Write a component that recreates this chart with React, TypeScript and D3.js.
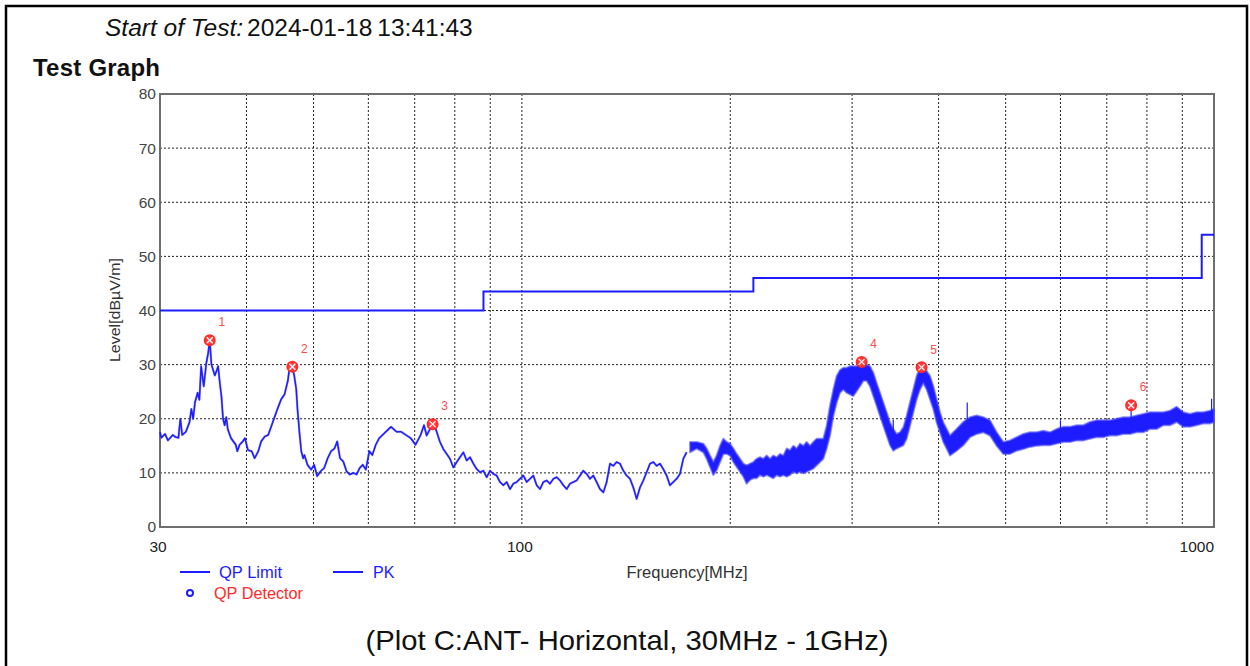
import React from "react";
import { scaleLog, scaleLinear, line, area, curveStepAfter } from "d3";

const W = 1250;
const H = 666;
const plot = { left: 160, right: 1214, top: 94, bottom: 527 };
const font = "'Liberation Sans', Arial, sans-serif";
const blue = "#1c1cff";
const red = "#ff2a2a";

// y ticks and log grid
const yTicks = [0, 10, 20, 30, 40, 50, 60, 70, 80];
const xTickLabels = [30, 100, 1000];
const xGrid = [40, 50, 60, 70, 80, 90, 100, 200, 300, 400, 500, 600, 700, 800, 900];

// QP limit (step after each break)
const limitFreq = [30, 88, 216, 960, 1000];
const limitLevel = [40, 43.5, 46, 54, 54];

// PK trace, 30 - 173 MHz (thin line)
const pkFreq = [
  30.0, 30.13, 30.5, 30.8, 31.3, 31.6, 31.9, 32.1, 32.3, 32.7, 33.1, 33.3, 33.5, 33.7, 34.0, 34.2,
  34.4, 34.7, 35.0, 35.2, 35.4, 35.6, 35.8, 36.0, 36.2, 36.4, 36.6, 36.8, 37.0, 37.2, 37.4, 37.6,
  38.0, 38.6, 38.8, 39.1, 39.5, 39.8, 40.2, 40.7, 41.1, 41.6, 42.0, 42.5, 43.0, 43.5, 44.0, 44.4,
  44.9, 45.4, 45.9, 46.1, 46.4, 46.7, 46.9, 47.2, 47.4, 47.7, 48.0, 48.3, 48.5, 49.0, 49.6, 50.1,
  50.6, 51.2, 51.8, 52.4, 53.0, 53.6, 54.1, 54.6, 55.2, 55.8, 56.4, 57.1, 57.7, 58.3, 58.9, 59.5,
  60.2, 60.8, 61.5, 62.2, 62.9, 63.6, 64.7, 65.9, 66.9, 68.0, 69.1, 70.2, 71.4, 72.2,
  72.85, 73.66, 74.48, 75.31, 76.15, 77.0, 77.86, 78.73, 79.61, 80.5, 81.4, 82.3, 83.22, 84.15,
  85.09, 86.04, 87.0, 87.97, 88.95, 89.94, 90.94, 91.96, 92.98, 94.02, 95.07, 96.13, 97.2, 98.28,
  99.38, 100.49, 101.61, 102.74, 103.89, 105.05, 106.22, 107.4, 108.6, 109.81, 111.03, 112.27,
  113.52, 114.79, 116.07, 117.36, 118.67, 119.99, 121.33, 122.68, 124.05, 125.43, 126.83, 128.24,
  129.67, 131.12, 132.58, 134.06, 135.55, 137.06, 138.59, 140.14, 141.7, 143.28, 144.88, 146.49,
  148.12, 149.77, 151.44, 153.13, 154.84, 156.56, 158.31, 160.07, 161.86, 163.66, 165.49, 167.33,
  169.2, 171.08, 172.99,
];
const pkLevel = [
  17.5, 16.5, 17.2, 16.0, 17.0, 16.6, 16.5, 20.0, 17.0, 17.6, 19.4, 21.8, 20.0, 23.0, 24.8, 23.5,
  29.7, 26.0, 30.3, 32.0, 34.5, 30.0, 29.0, 28.0, 28.8, 29.7, 26.7, 24.2, 20.0, 18.8, 20.3, 18.0,
  16.4, 15.2, 14.0, 15.2, 15.8, 16.4, 14.2, 14.0, 12.7, 14.0, 15.8, 16.7, 17.0, 18.8, 20.6, 22.0,
  23.6, 24.5, 27.0, 28.8, 29.7, 29.0, 27.9, 25.5, 21.8, 17.6, 14.0, 12.7, 13.3, 11.5, 10.6, 11.5,
  9.4, 10.3, 10.9, 12.7, 14.0, 14.5, 15.8, 12.7, 12.1, 10.3, 9.7, 10.0, 9.7, 10.9, 11.5, 10.6,
  14.0, 13.3, 15.2, 16.4, 17.0, 17.6, 18.5, 17.6, 17.6, 17.0, 16.4, 15.2, 17.0, 18.8,
  16.9, 18.1, 19.4, 17.6, 15.7, 14.4, 13.5, 12.6, 11.0, 12.0, 12.9, 13.8, 12.3, 12.9,
  11.7, 10.7, 10.1, 10.4, 9.2, 10.4, 9.8, 9.5, 8.3, 7.7, 8.3, 7.0, 8.0, 8.3,
  8.9, 9.5, 8.3, 8.9, 9.5, 7.7, 7.0, 8.3, 8.6, 8.0, 8.9, 9.2,
  8.6, 7.7, 7.0, 8.0, 8.3, 8.6, 9.5, 10.4, 9.8, 8.9, 9.5, 8.3,
  7.0, 6.4, 8.3, 11.7, 11.3, 12.0, 11.7, 10.4, 9.5, 8.9, 7.3, 5.2,
  7.3, 8.6, 10.1, 11.7, 12.0, 11.3, 11.7, 10.7, 9.5, 7.7, 8.3, 8.9,
  9.8, 12.6, 13.8,
];

// PK trace, 175 - 1000 MHz (dense band: upper / lower envelope)
const bandFreq = [
  174.96, 178.88, 182.89, 184.93, 186.99, 189.08, 191.19, 193.32, 195.47, 197.65, 199.86, 202.09,
  204.34, 206.62, 208.92, 211.25, 213.61, 215.99, 218.4, 220.83, 223.29, 225.78, 228.3, 230.84,
  233.42, 236.02, 238.65, 241.31, 244.0, 246.72, 249.47, 252.25, 255.07, 257.91, 260.79, 263.69,
  266.63, 269.61, 272.61, 275.65, 278.73, 281.83, 284.98, 288.15, 291.37, 294.61, 297.9, 301.22,
  304.58, 307.97, 311.41, 314.88, 318.39, 321.94, 325.53, 329.16, 332.83, 336.54, 340.29, 344.08,
  347.92, 351.8, 355.72, 359.69, 363.7, 367.75, 371.85, 376.0, 380.19, 384.43, 388.72, 393.05,
  397.43, 401.86, 406.34, 410.87, 415.45, 424.77, 434.29, 444.03, 453.99, 464.17, 474.58, 485.22,
  496.1, 507.23, 518.6, 530.23, 542.12, 554.28, 566.71, 579.42, 592.41, 605.7, 619.28, 633.17,
  647.37, 661.89, 676.73, 691.91, 707.42, 723.29, 739.51, 756.09, 773.05, 790.38, 808.11, 826.23,
  844.76, 863.7, 883.07, 902.87, 923.12, 943.82, 964.99, 986.63, 1000,
];
const bandHi = [
  15.7, 15.7, 15.4, 14.5, 13.2, 12.0, 13.2, 15.0, 16.3, 15.7, 15.4, 14.5,
  13.5, 12.6, 11.7, 11.4, 11.7, 12.0, 12.6, 12.9, 12.6, 13.2, 12.6, 13.2,
  12.9, 13.5, 13.2, 14.5, 14.2, 15.0, 14.5, 15.4, 15.0, 15.7, 15.0, 15.7,
  16.3, 16.3, 16.3, 18.7, 22.4, 25.4, 27.9, 29.0, 29.4, 29.4, 29.7, 29.7,
  29.7, 30.3, 30.3, 30.0, 29.7, 28.5, 26.6, 24.8, 23.0, 21.2, 19.3, 18.1,
  17.2, 17.5, 18.4, 20.5, 23.0, 25.4, 27.9, 29.4, 29.7, 28.8, 27.9, 26.0,
  23.6, 21.2, 19.3, 18.1, 16.9, 18.1, 19.4, 20.3, 20.6, 20.3, 19.7, 17.5,
  15.7, 16.0, 16.6, 17.2, 17.5, 17.5, 17.8, 17.5, 18.1, 18.5, 18.5, 18.8,
  18.8, 19.4, 19.7, 19.7, 19.7, 20.0, 20.3, 20.3, 20.6, 20.9, 21.2, 21.2,
  21.2, 21.5, 22.2, 21.2, 20.9, 21.2, 21.2, 21.5, 21.8,
];
const bandLo = [
  13.8, 14.5, 13.8, 12.6, 11.1, 9.6, 10.5, 12.0, 13.5, 13.5, 13.2, 12.0,
  11.1, 10.2, 9.3, 8.0, 8.7, 9.0, 9.0, 9.6, 9.3, 9.6, 9.3, 9.0,
  9.6, 9.3, 9.6, 9.3, 9.6, 10.2, 9.9, 10.2, 9.9, 10.2, 10.5, 10.8,
  11.4, 12.0, 12.6, 14.5, 16.9, 20.5, 23.0, 24.8, 25.4, 24.8, 24.5, 24.2,
  25.1, 26.0, 27.0, 27.0, 26.0, 24.2, 22.4, 20.5, 18.7, 16.9, 15.1, 14.1,
  14.5, 14.8, 15.1, 16.3, 18.7, 21.2, 23.6, 25.4, 26.6, 25.4, 23.6, 21.8,
  19.3, 17.5, 15.7, 14.5, 13.2, 14.1, 15.1, 16.6, 17.2, 17.5, 16.9, 15.0,
  13.5, 13.5, 14.1, 14.4, 14.8, 15.0, 15.1, 15.1, 15.4, 15.7, 15.7, 16.0,
  16.0, 16.3, 16.6, 16.6, 16.9, 16.9, 17.2, 17.2, 17.5, 17.5, 18.1, 18.1,
  18.8, 18.8, 19.4, 18.5, 18.5, 18.8, 19.1, 19.1, 19.4,
];

// narrow spikes above the band
const spikeFreq = [344, 440, 600, 759, 992];
const spikeBase = [14.5, 19.0, 17.0, 18.5, 20.5];
const spikeTop = [19.8, 23.0, 19.7, 22.5, 23.7];

// QP detector markers
const markerFreq = [35.4, 46.6, 74.3, 309.7, 378, 759];
const markerLevel = [34.5, 29.6, 19.0, 30.5, 29.5, 22.5];

const x = scaleLog().domain([30, 1000]).range([plot.left, plot.right]);
const y = scaleLinear().domain([0, 80]).range([plot.bottom, plot.top]);

export default function App() {
  const limitPath = line<number>()
    .x((d, i) => x(limitFreq[i]))
    .y((d) => y(d))
    .curve(curveStepAfter)(limitLevel);
  const pkPath = line<number>()
    .x((d, i) => x(pkFreq[i]))
    .y((d) => y(d))(pkLevel);
  const bandPath = area<number>()
    .x((d, i) => x(bandFreq[i]))
    .y0((d, i) => y(bandLo[i]))
    .y1((d) => y(d))(bandHi);

  return (
    <svg
      width={W}
      height={H}
      style={{ position: "absolute", left: 0, top: 0, background: "#fff" }}
      fontFamily={font}
    >
      <rect x={6} y={6} width={1241} height={720} fill="none" stroke="#000" strokeWidth={2.5} />

      <text x={105} y={36} fontSize={24.5} fill="#111">
        <tspan fontStyle="italic">Start of Test:</tspan>
        <tspan dx={4}>2024-01-18</tspan>
        <tspan dx={5}>13:41:43</tspan>
      </text>
      <text x={33} y={76} fontSize={24} fontWeight="bold" fill="#111" textLength={127}>
        Test Graph
      </text>

      {/* grid */}
      {yTicks.slice(1, -1).map((t) => (
        <line
          key={`gy${t}`}
          x1={plot.left}
          x2={plot.right}
          y1={y(t)}
          y2={y(t)}
          stroke="#222"
          strokeWidth={1}
          strokeDasharray="2,2"
        />
      ))}
      {xGrid.map((f) => (
        <line
          key={`gx${f}`}
          x1={x(f)}
          x2={x(f)}
          y1={plot.top}
          y2={plot.bottom}
          stroke="#222"
          strokeWidth={1}
          strokeDasharray="2,2"
        />
      ))}
      <rect
        x={plot.left}
        y={plot.top}
        width={plot.right - plot.left}
        height={plot.bottom - plot.top}
        fill="none"
        stroke="#6e6e6e"
        strokeWidth={2}
      />

      {yTicks.map((t) => (
        <text key={`yt${t}`} x={plot.left - 4} y={y(t)} dy="0.35em" textAnchor="end" fontSize={15.5} fill="#444">
          {t}
        </text>
      ))}
      {xTickLabels.map((f) => (
        <text
          key={`xt${f}`}
          x={f === 1000 ? x(f) : x(f) - 2}
          y={plot.bottom + 25}
          textAnchor={f === 1000 ? "end" : "middle"}
          fontSize={15.5}
          fill="#222"
        >
          {f}
        </text>
      ))}
      <text
        transform={`translate(120,310) rotate(-90)`}
        textAnchor="middle"
        fontSize={14}
        fill="#333"
        textLength={104}
        lengthAdjust="spacingAndGlyphs"
      >
        Level[dBµV/m]
      </text>
      <text x={687} y={578} textAnchor="middle" fontSize={16} fill="#333" textLength={121} lengthAdjust="spacingAndGlyphs">
        Frequency[MHz]
      </text>

      {/* limit and PK trace */}
      <path d={limitPath ?? ""} fill="none" stroke={blue} strokeWidth={2} />
      <path d={pkPath ?? ""} fill="none" stroke="#4a4aff" strokeWidth={2.2} strokeLinejoin="round" opacity={0.6} />
      <path d={pkPath ?? ""} fill="none" stroke={blue} strokeWidth={1.4} strokeLinejoin="round" />
      <path d={bandPath ?? ""} fill={blue} stroke="#4a4aff" strokeWidth={2} strokeLinejoin="round" strokeOpacity={0.6} />
      {spikeFreq.map((f, i) => (
        <line
          key={`sp${i}`}
          x1={x(f)}
          x2={x(f)}
          y1={y(spikeBase[i])}
          y2={y(spikeTop[i])}
          stroke={blue}
          strokeWidth={1.2}
        />
      ))}

      {/* markers */}
      {markerFreq.map((f, i) => {
        const cx = x(f);
        const cy = y(markerLevel[i]);
        return (
          <g key={`mk${i}`} transform={`translate(${cx},${cy})`}>
            <circle r={5} fill="#ff4040" stroke={red} strokeWidth={2} />
            <line x1={-3} y1={-3} x2={3} y2={3} stroke="#fff" strokeWidth={1.2} />
            <line x1={-3} y1={3} x2={3} y2={-3} stroke="#fff" strokeWidth={1.2} />
            <text x={12} y={-18} dy="0.35em" textAnchor="middle" fontSize={12} fill="#ff4a4a">
              {i + 1}
            </text>
          </g>
        );
      })}

      {/* legend */}
      <line x1={180} x2={210} y1={572} y2={572} stroke={blue} strokeWidth={2} />
      <text x={219} y={572} dy="0.35em" fontSize={16} fill={blue} textLength={63} lengthAdjust="spacingAndGlyphs">
        QP Limit
      </text>
      <line x1={333} x2={363} y1={572} y2={572} stroke={blue} strokeWidth={2} />
      <text x={373} y={572} dy="0.35em" fontSize={16} fill={blue}>
        PK
      </text>
      <circle cx={190} cy={593} r={3} fill="none" stroke={blue} strokeWidth={2} />
      <text x={214} y={593} dy="0.35em" fontSize={16} fill={red} textLength={89} lengthAdjust="spacingAndGlyphs">
        QP Detector
      </text>

      <text
        x={627}
        y={650}
        textAnchor="middle"
        fontSize={28}
        fill="#111"
        textLength={523}
        lengthAdjust="spacingAndGlyphs"
      >
        (Plot C:ANT- Horizontal, 30MHz - 1GHz)
      </text>
    </svg>
  );
}
